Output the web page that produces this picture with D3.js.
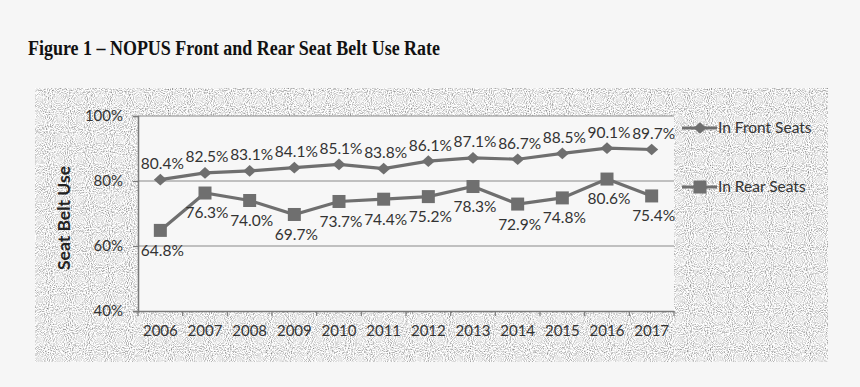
<!DOCTYPE html>
<html>
<head>
<meta charset="utf-8">
<script src="https://cdn.jsdelivr.net/npm/d3@7"></script>
<style>
  html, body { margin: 0; padding: 0; background: #f6f6f6; }
  svg { display: block; }
</style>
</head>
<body>
<div id="chart"></div>
<script>
// data
const years = ["2006","2007","2008","2009","2010","2011","2012","2013","2014","2015","2016","2017"];
const frontSeats = [80.4, 82.5, 83.1, 84.1, 85.1, 83.8, 86.1, 87.1, 86.7, 88.5, 90.1, 89.7];
const rearSeats = [64.8, 76.3, 74.0, 69.7, 73.7, 74.4, 75.2, 78.3, 72.9, 74.8, 80.6, 75.4];
const yTicks = [40, 60, 80, 100];
const seriesNames = ["In Front Seats", "In Rear Seats"];

const width = 860, height = 387;
const lineColor = "#6f6f6f";
const labelFont = "Lato, 'Open Sans', sans-serif";

const svg = d3.select("#chart").append("svg")
    .attr("width", width)
    .attr("height", height);

// grainy background texture
const defs = svg.append("defs");
const filt = defs.append("filter").attr("id", "grain")
    .attr("x", 0).attr("y", 0).attr("width", "100%").attr("height", "100%");
filt.append("feTurbulence")
    .attr("type", "fractalNoise")
    .attr("baseFrequency", 0.95)
    .attr("numOctaves", 1)
    .attr("seed", 3);
filt.append("feColorMatrix")
    .attr("type", "matrix")
    .attr("values", "1.9 0 0 0 -0.13  1.9 0 0 0 -0.13  1.9 0 0 0 -0.13  0 0 0 0 1");

// title
svg.append("text")
    .attr("x", 28)
    .attr("y", 55)
    .attr("font-family", "'Liberation Serif', 'Times New Roman', serif")
    .attr("font-weight", "bold")
    .attr("font-size", 20)
    .attr("textLength", 412)
    .attr("lengthAdjust", "spacingAndGlyphs")
    .attr("fill", "#111")
    .text("Figure 1 \u2013 NOPUS Front and Rear Seat Belt Use Rate");

// outer chart area
svg.append("rect")
    .attr("x", 35).attr("y", 88)
    .attr("width", 793).attr("height", 274)
    .attr("fill", "#cfcfcf")
    .attr("filter", "url(#grain)");

// plot area
const plot = { left: 138, right: 674, top: 116, bottom: 311 };

const x = d3.scaleBand()
    .domain(years)
    .range([plot.left, plot.right])
    .paddingInner(0)
    .paddingOuter(0);

const y = d3.scaleLinear()
    .domain([40, 100])
    .range([plot.bottom, plot.top]);

svg.append("rect")
    .attr("x", plot.left).attr("y", plot.top)
    .attr("width", plot.right - plot.left)
    .attr("height", plot.bottom - plot.top)
    .attr("fill", "#f7f7f7");

// gridlines
svg.append("g")
    .selectAll("line")
    .data(yTicks.filter(d => d > 40))
    .join("line")
    .attr("x1", plot.left).attr("x2", plot.right)
    .attr("y1", d => y(d)).attr("y2", d => y(d))
    .attr("stroke", "#8a8a8a")
    .attr("stroke-width", 1.2);

// y axis
const gy = svg.append("g")
    .attr("transform", `translate(${plot.left},0)`)
    .call(d3.axisLeft(y).tickValues(yTicks).tickSize(5).tickPadding(10).tickFormat(d => d + "%"));
gy.select(".domain").attr("stroke", "#7a7a7a").attr("stroke-width", 1.5);
gy.selectAll(".tick line").attr("stroke", "#7a7a7a").attr("stroke-width", 1.2);
gy.selectAll(".tick text")
    .attr("font-family", labelFont)
    .attr("font-size", 15)
    .attr("fill", "#333");

// x axis
const gx = svg.append("g")
    .attr("transform", `translate(0,${plot.bottom})`)
    .call(d3.axisBottom(x).tickSize(0).tickPadding(14));
gx.select(".domain").attr("stroke", "#7a7a7a").attr("stroke-width", 1.5);
gx.selectAll(".tick text")
    .attr("font-family", labelFont)
    .attr("font-size", 15)
    .attr("fill", "#333");
// boundary tick marks
gx.selectAll("line.bound")
    .data(years.concat(["end"]))
    .join("line")
    .attr("class", "bound")
    .attr("x1", (d, i) => plot.left + i * x.bandwidth())
    .attr("x2", (d, i) => plot.left + i * x.bandwidth())
    .attr("y1", 0).attr("y2", 5)
    .attr("stroke", "#7a7a7a")
    .attr("stroke-width", 1.2);

// y axis title
svg.append("text")
    .attr("transform", `translate(64,218) rotate(-90)`)
    .attr("text-anchor", "middle")
    .attr("dy", "0.35em")
    .attr("font-family", labelFont)
    .attr("font-weight", "bold")
    .attr("font-size", 17.5)
    .attr("fill", "#222")
    .text("Seat Belt Use");

const cx = d => x(d) + x.bandwidth() / 2;
const line = d3.line().x(d => cx(d.year)).y(d => y(d.v));

const front = years.map((yr, i) => ({ year: yr, v: frontSeats[i] }));
const rear = years.map((yr, i) => ({ year: yr, v: rearSeats[i] }));

const diamond = (s) => `M0,${-s * 0.45}L${s / 2},0L0,${s * 0.45}L${-s / 2},0Z`;

function drawSeries(data, shape, labelDy) {
    const g = svg.append("g");
    g.append("path")
        .datum(data)
        .attr("d", line)
        .attr("fill", "none")
        .attr("stroke", lineColor)
        .attr("stroke-width", 3.2);
    if (shape === "diamond") {
        g.selectAll("path.m")
            .data(data)
            .join("path")
            .attr("class", "m")
            .attr("d", diamond(13))
            .attr("transform", d => `translate(${cx(d.year)},${y(d.v)})`)
            .attr("fill", lineColor);
    } else {
        g.selectAll("rect.m")
            .data(data)
            .join("rect")
            .attr("class", "m")
            .attr("x", d => cx(d.year) - 6.5)
            .attr("y", d => y(d.v) - 6.5)
            .attr("width", 13).attr("height", 13)
            .attr("fill", lineColor);
    }
    g.selectAll("text")
        .data(data)
        .join("text")
        .attr("x", d => cx(d.year) + 2)
        .attr("y", d => y(d.v) + labelDy)
        .attr("dy", "0.35em")
        .attr("text-anchor", "middle")
        .attr("font-family", labelFont)
        .attr("font-size", 15.5)
        .attr("fill", "#333")
        .text(d => d.v.toFixed(1) + "%");
}

drawSeries(front, "diamond", -16);
drawSeries(rear, "square", 20);

// legend
const legend = svg.append("g").attr("transform", "translate(682,0)");
const legendY = [128, 187];
seriesNames.forEach((name, i) => {
    const ly = legendY[i];
    legend.append("line")
        .attr("x1", 0).attr("x2", 35)
        .attr("y1", ly).attr("y2", ly)
        .attr("stroke", lineColor)
        .attr("stroke-width", 3.2);
    if (i === 0) {
        legend.append("path")
            .attr("d", diamond(13))
            .attr("transform", `translate(18,${ly})`)
            .attr("fill", lineColor);
    } else {
        legend.append("rect")
            .attr("x", 11.5).attr("y", ly - 6.5)
            .attr("width", 13).attr("height", 13)
            .attr("fill", lineColor);
    }
    legend.append("text")
        .attr("x", 36)
        .attr("y", ly)
        .attr("dy", "0.35em")
        .attr("font-family", labelFont)
        .attr("font-size", 15.5)
        .attr("fill", "#333")
        .text(name);
});
</script>
</body>
</html>
